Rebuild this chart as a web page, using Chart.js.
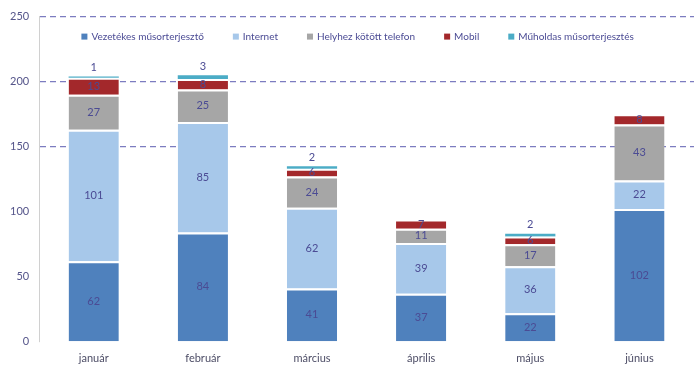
<!DOCTYPE html>
<html>
<head>
<meta charset="utf-8">
<script src="https://cdn.jsdelivr.net/npm/chart.js@4/dist/chart.umd.min.js"></script>
<style>
  html, body { margin: 0; padding: 0; background: #fff; }
  #wrap { width: 694px; height: 367px; }
</style>
</head>
<body>
<div id="wrap"><canvas id="chart"></canvas></div>
<script>
const months = ['január', 'február', 'március', 'április', 'május', 'június'];

const vezetekes = [62, 84, 41, 37, 22, 102];
const internet = [101, 85, 62, 39, 36, 22];
const helyhez = [27, 25, 24, 11, 17, 43];
const mobil = [13, 8, 6, 7, 6, 8];
const muholdas = [1, 3, 2, 0, 2, 0];

const labelColor = '#4b4b94';
const fontFamily = 'Lato, "Open Sans", sans-serif';

Chart.defaults.font.family = fontFamily;
Chart.defaults.font.size = 11;

// value labels: centred in each segment, above the bar for the thin top series
const segmentLabels = {
  id: 'segmentLabels',
  afterDatasetsDraw(chart) {
    const ctx = chart.ctx;
    ctx.save();
    ctx.font = '11px ' + fontFamily;
    ctx.fillStyle = labelColor;
    ctx.textAlign = 'center';
    ctx.textBaseline = 'middle';
    chart.data.datasets.forEach((ds, i) => {
      const meta = chart.getDatasetMeta(i);
      meta.data.forEach((bar, j) => {
        const v = ds.data[j];
        if (!v) return;
        if (ds.labelAbove) {
          ctx.fillText(v, bar.x, bar.y - 9);
        } else {
          ctx.fillText(v, bar.x, (bar.y + bar.base) / 2);
        }
      });
    });
    ctx.restore();
  }
};

// one-row legend drawn inside the plot, just under the top gridline
const innerLegend = {
  id: 'innerLegend',
  afterDraw(chart) {
    const ctx = chart.ctx;
    const area = chart.chartArea;
    const box = 6, gapBox = 4, gapItem = 29;
    ctx.save();
    ctx.font = '10px ' + fontFamily;
    ctx.textBaseline = 'middle';
    const items = chart.data.datasets.map(ds => ({
      text: ds.label,
      color: ds.backgroundColor,
      w: box + gapBox + ctx.measureText(ds.label).width
    }));
    const total = items.reduce((s, it) => s + it.w, 0) + gapItem * (items.length - 1);
    let x = (area.left + area.right) / 2 - total / 2 - 9;
    const y = area.top + 20;
    items.forEach(it => {
      ctx.fillStyle = it.color;
      ctx.fillRect(x, y - box / 2, box, box);
      ctx.fillStyle = labelColor;
      ctx.fillText(it.text, x + box + gapBox, y);
      x += it.w + gapItem;
    });
    ctx.restore();
  }
};

function series(label, data, color, extra) {
  return Object.assign({
    label,
    data,
    backgroundColor: color,
    borderColor: '#ffffff',
    borderWidth: { top: 2, right: 0, bottom: 0, left: 0 },
    borderSkipped: false,
    categoryPercentage: 1,
    barPercentage: 0.46
  }, extra || {});
}

new Chart(document.getElementById('chart'), {
  type: 'bar',
  data: {
    labels: months,
    datasets: [
      series('Vezetékes műsorterjesztő', vezetekes, '#4f81bd'),
      series('Internet', internet, '#a7c8ea'),
      series('Helyhez kötött telefon', helyhez, '#a6a6a6'),
      series('Mobil', mobil, '#a3282b'),
      series('Műholdas műsorterjesztés', muholdas, '#4bacc6', { borderWidth: 0, labelAbove: true })
    ]
  },
  options: {
    responsive: true,
    maintainAspectRatio: false,
    animation: false,
    layout: { padding: { top: 14, right: 0, bottom: 0, left: 0 } },
    plugins: {
      legend: { display: false },
      tooltip: { enabled: false }
    },
    scales: {
      x: {
        stacked: true,
        grid: { display: false },
        border: { display: false },
        ticks: { color: '#4d4d66', padding: 2 }
      },
      y: {
        stacked: true,
        min: 0,
        max: 250,
        ticks: { stepSize: 50, color: '#55558a', padding: 10 },
        grid: {
          drawTicks: false,
          color: c => c.tick && c.tick.value >= 150 ? '#7c7cc0' : 'transparent',
          lineWidth: 1.2
        },
        border: { display: true, color: '#d0d0d0', dash: [6, 4] }
      }
    }
  },
  plugins: [segmentLabels, innerLegend]
});
</script>
</body>
</html>
